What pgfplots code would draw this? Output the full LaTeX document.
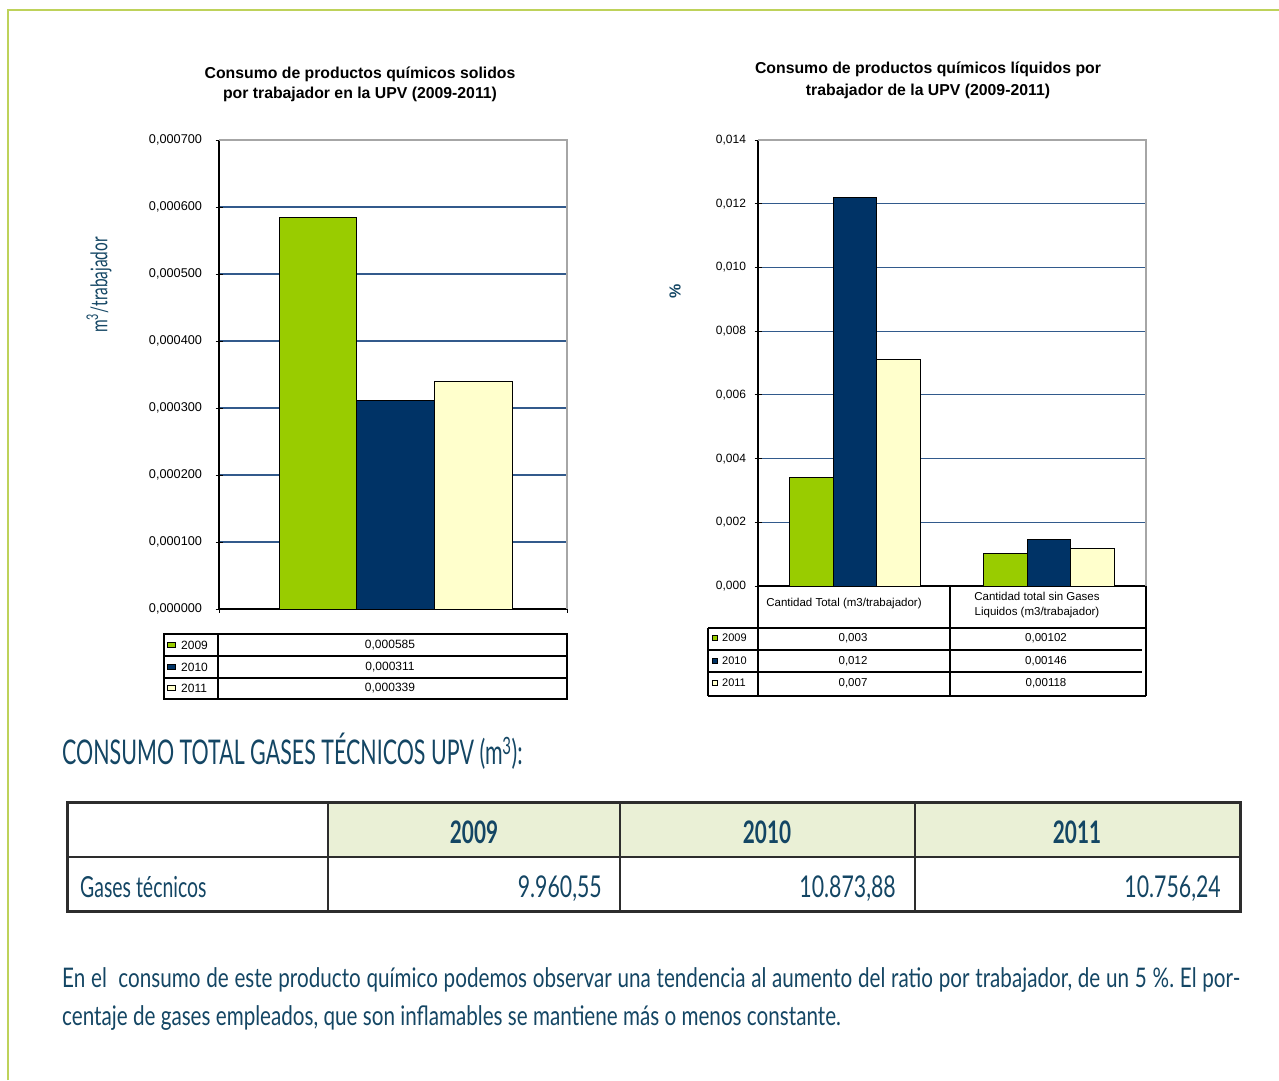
\documentclass[border=0pt]{standalone}
\usepackage{pgfplots}
\pgfplotsset{compat=1.18}
\usepackage{fontspec}
\setmainfont{Liberation Sans}
\newfontfamily\cond[FakeStretch=0.67]{Lato}
\newfontfamily\condh[FakeStretch=0.63]{Lato}
\newfontfamily\condv[FakeStretch=0.71]{Lato}
\newfontfamily\condp[FakeStretch=0.765]{Lato}
\definecolor{cgreen}{HTML}{99CC00}
\definecolor{cnavy}{HTML}{003366}
\definecolor{cyel}{HTML}{FFFFCC}
\definecolor{gridblue}{RGB}{50,90,140}
\definecolor{tblue}{RGB}{20,70,100}
\definecolor{hfill}{RGB}{234,240,214}
\definecolor{pborder}{RGB}{190,210,90}
\definecolor{tline}{RGB}{45,45,45}
\frenchspacing
\begin{document}
\begin{tikzpicture}
\path[use as bounding box] (0pt,0pt) rectangle (1279pt,-1080pt);
\draw[pborder, line width=1.5pt] (8pt,-1080pt) -- (8pt,-10pt) -- (1279pt,-10pt);

% ---------- left chart ----------
\node[font=\fontsize{15.8}{20}\selectfont\bfseries, align=center] at (360pt,-84pt)
  {Consumo de productos químicos solidos\\por trabajador en la UPV (2009-2011)};
\node[rotate=90, text=tblue, font=\cond\fontsize{23}{26}\selectfont] at (99pt,-285pt) {m\textsuperscript{3}/trabajador};
\begin{axis}[
  at={(219pt,-609pt)}, anchor=south west,
  scale only axis, width=348pt, height=469pt,
  xmin=-1.015, xmax=0.985, ymin=0, ymax=0.0007,
  ytick={0,0.0001,0.0002,0.0003,0.0004,0.0005,0.0006,0.0007},
  scaled y ticks=false,
  xtick={-1.015,0.985}, xticklabels={},
  ybar=0pt, bar width=77.7pt,
  axis x line*=bottom, axis y line*=left,
  axis line style={black, line width=1.4pt, -},
  ymajorgrids, grid style={gridblue, line width=1.2pt},
  tick align=center, major tick length=7pt,
  tick style={black, line width=1pt},
  yticklabel style={font=\fontsize{12.7}{14}\selectfont, xshift=-10pt,
     /pgf/number format/fixed, /pgf/number format/fixed zerofill, /pgf/number format/precision=6,
     /pgf/number format/use comma, /pgf/number format/1000 sep={}, /pgf/number format/assume math mode=true},
  after end axis/.code={\draw[gray!70, line width=1.2pt] (rel axis cs:0,1) -- (rel axis cs:1,1) -- (rel axis cs:1,0);},
]
\addplot[fill=cgreen, draw=black, line width=1pt] coordinates {(0,0.000585)};
\addplot[fill=cnavy, draw=black, line width=1pt] coordinates {(0,0.000311)};
\addplot[fill=cyel, draw=black, line width=1pt] coordinates {(0,0.000339)};
\end{axis}
% left data table
\draw[black, line width=1.5pt] (164pt,-634pt) rectangle (567pt,-699pt);
\draw[black, line width=1.2pt] (164pt,-656pt) -- (567pt,-656pt) (164pt,-678pt) -- (567pt,-678pt) (218pt,-634pt) -- (218pt,-699pt);
\foreach \yy/\cc/\yr/\vv in {645/cgreen/2009/{0,000585}, 667/cnavy/2010/{0,000311}, 688/cyel/2011/{0,000339}}{
  \draw[black, line width=0.8pt, fill=\cc] (167.5pt,-\yy pt-2.5pt) rectangle (175pt,-\yy pt+2.5pt);
  \node[anchor=west, inner sep=0pt, font=\fontsize{12}{14}\selectfont] at (181pt,-\yy pt) {\yr};
  \node[inner sep=0pt, font=\fontsize{12}{14}\selectfont] at (390pt,-\yy pt) {\vv};
}

% ---------- right chart ----------
\node[font=\fontsize{15.8}{22}\selectfont\bfseries, align=center] at (928pt,-80pt)
  {Consumo de productos químicos líquidos por\\trabajador de la UPV (2009-2011)};
\node[rotate=90, text=tblue, font=\fontsize{16}{18}\selectfont\bfseries] at (675pt,-291pt) {\%};
\begin{axis}[
  at={(758pt,-586pt)}, anchor=south west,
  scale only axis, width=388pt, height=446pt,
  xmin=-0.5, xmax=1.5, ymin=0, ymax=0.014,
  ytick={0,0.002,0.004,0.006,0.008,0.010,0.012,0.014},
  scaled y ticks=false,
  xtick=\empty,
  ybar=0pt, bar width=43.7pt,
  axis x line*=bottom, axis y line*=left,
  axis line style={black, line width=1.4pt, -},
  ymajorgrids, grid style={gridblue, line width=1.2pt},
  tick align=center, major tick length=7pt,
  tick style={black, line width=1pt},
  yticklabel style={font=\fontsize{12}{14}\selectfont, xshift=-5pt,
     /pgf/number format/fixed, /pgf/number format/fixed zerofill, /pgf/number format/precision=3,
     /pgf/number format/use comma, /pgf/number format/1000 sep={}, /pgf/number format/assume math mode=true},
  after end axis/.code={\draw[gray!70, line width=1.2pt] (rel axis cs:0,1) -- (rel axis cs:1,1) -- (rel axis cs:1,0);},
]
\addplot[fill=cgreen, draw=black, line width=1pt] coordinates {(0,0.0034) (1,0.00102)};
\addplot[fill=cnavy, draw=black, line width=1pt] coordinates {(0,0.0122) (1,0.00146)};
\addplot[fill=cyel, draw=black, line width=1pt] coordinates {(0,0.0071) (1,0.00118)};
\end{axis}
% right data table
\draw[black, line width=1.5pt] (758pt,-586pt) -- (758pt,-696pt) (950pt,-586pt) -- (950pt,-696pt) (1146pt,-586pt) -- (1146pt,-696pt);
\draw[black, line width=1.5pt] (708pt,-628pt) -- (1146pt,-628pt) (708pt,-696pt) -- (1146pt,-696pt) (708pt,-628pt) -- (708pt,-696pt);
\draw[black, line width=1.2pt] (708pt,-650pt) -- (1142pt,-650pt) (708pt,-672pt) -- (1142pt,-672pt);
\node[font=\fontsize{11.5}{13}\selectfont] at (844pt,-604pt) {Cantidad Total (m3/trabajador)};
\node[font=\fontsize{11.5}{13}\selectfont, align=center] at (1037pt,-605pt) {Cantidad total sin Gases\\[2pt]Liquidos (m3/trabajador)};
\foreach \yy/\cc/\yr/\va/\vb in {638/cgreen/2009/{0,003}/{0,00102}, 661/cnavy/2010/{0,012}/{0,00146}, 683/cyel/2011/{0,007}/{0,00118}}{
  \draw[black, line width=0.8pt, fill=\cc] (712pt,-\yy pt-2.5pt) rectangle (717pt,-\yy pt+2.5pt);
  \node[anchor=west, inner sep=0pt, font=\fontsize{11}{13}\selectfont] at (722pt,-\yy pt) {\yr};
  \node[inner sep=0pt, font=\fontsize{11.5}{13}\selectfont] at (853pt,-\yy pt) {\va};
  \node[inner sep=0pt, font=\fontsize{11.5}{13}\selectfont] at (1046pt,-\yy pt) {\vb};
}

% ---------- heading ----------
\node[anchor=base west, inner sep=0pt, text=tblue, font=\condh\fontsize{34}{38}\selectfont] at (62pt,-764pt)
  {CONSUMO TOTAL GASES TÉCNICOS UPV (m\textsuperscript{3}):};

% ---------- table ----------
\fill[hfill] (328pt,-802pt) rectangle (1240pt,-857pt);
\draw[tline, line width=3pt] (67pt,-802pt) rectangle (1240pt,-911pt);
\draw[tline, line width=2.5pt] (67pt,-857pt) -- (1240pt,-857pt)
  (328pt,-802pt) -- (328pt,-911pt) (620pt,-802pt) -- (620pt,-911pt) (915pt,-802pt) -- (915pt,-911pt);
\foreach \xx/\yr in {474/2009, 767/2010, 1077/2011}{
  \node[anchor=base, inner sep=0pt, text=tblue, font=\cond\bfseries\fontsize{31}{34}\selectfont] at (\xx pt,-843pt) {\yr};
}
\node[anchor=base west, inner sep=0pt, text=tblue, font=\cond\fontsize{29}{32}\selectfont] at (80pt,-897pt) {Gases técnicos};
\foreach \xx/\vv in {602/{9.960,55}, 896/{10.873,88}, 1221/{10.756,24}}{
  \node[anchor=base east, inner sep=0pt, text=tblue, font=\condv\fontsize{30}{32}\selectfont] at (\xx pt,-897pt) {\vv};
}

% ---------- paragraph ----------
\node[anchor=base west, inner sep=0pt, text=tblue, font=\condp\fontsize{27}{30}\selectfont] at (62pt,-987pt)
  {\makebox[1178pt][s]{En el\ \ consumo de este producto químico podemos observar una tendencia al aumento del ratio por trabajador, de un 5 \%. El por-}};
\node[anchor=base west, inner sep=0pt, text=tblue, font=\condp\fontsize{27}{30}\selectfont] at (62pt,-1025pt)
  {centaje de gases empleados, que son inflamables se mantiene más o menos constante.};
\end{tikzpicture}
\end{document}
